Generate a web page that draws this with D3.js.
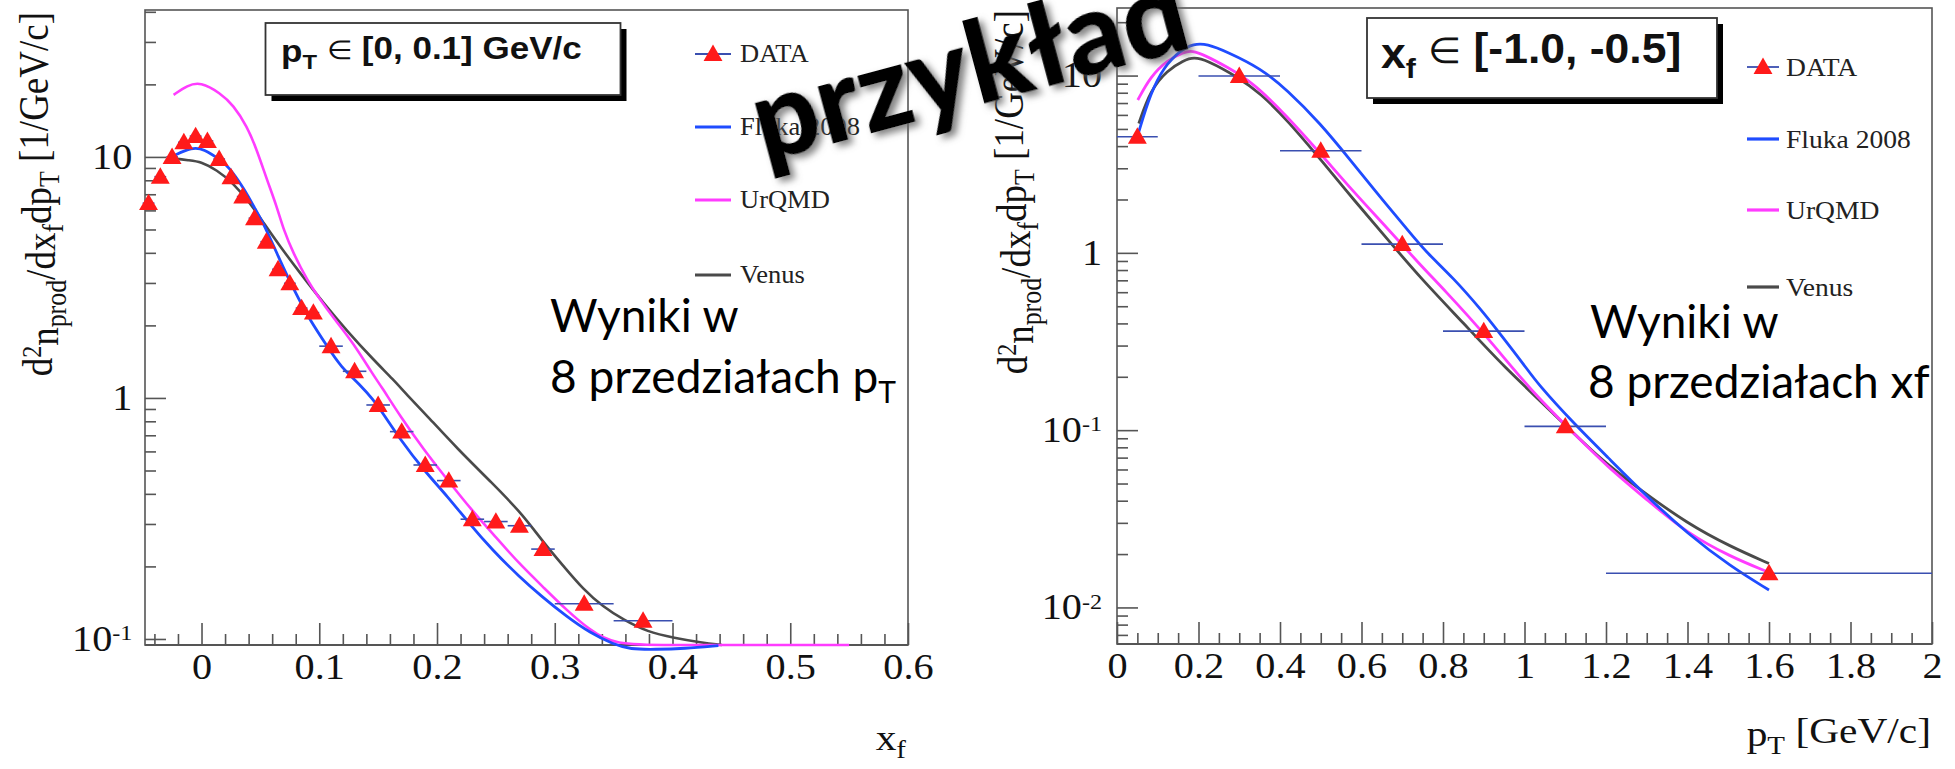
<!DOCTYPE html>
<html><head><meta charset="utf-8">
<script src="https://cdn.jsdelivr.net/npm/d3@7/dist/d3.min.js"></script>
<style>body{margin:0;background:#fff;}svg{display:block}</style>
</head><body>
<svg id="c" width="1955" height="769"></svg>
<script>
// ---------------- LEFT PANEL DATA (p_T in [0,0.1] GeV/c, vs x_f) ----------------
const leftDataX    = [-0.045,-0.035,-0.025,-0.015,-0.005,0.005,0.015,0.025,0.035,0.045,0.055,0.065,0.075,0.085,0.095,0.11,0.13,0.15,0.17,0.19,0.21,0.23,0.25,0.27,0.29,0.325,0.375];
const leftDataY    = [6.43,8.28,10.0,11.5,12.2,11.65,9.8,8.24,6.85,5.57,4.45,3.42,2.99,2.36,2.26,1.64,1.29,0.935,0.725,0.527,0.454,0.314,0.307,0.295,0.236,0.140,0.119];
const leftDataXErr = [0.005,0.005,0.005,0.005,0.005,0.005,0.005,0.005,0.005,0.005,0.005,0.005,0.005,0.005,0.005,0.01,0.01,0.01,0.01,0.01,0.01,0.01,0.01,0.01,0.01,0.025,0.025];

const leftFlukaX  = [-0.024,-0.008,0.002,0.016,0.023,0.036,0.046,0.054,0.064,0.073,0.083,0.092,0.107,0.118,0.135,0.146,0.153,0.169,0.189,0.209,0.227,0.247,0.27,0.289,0.31,0.33,0.35,0.364,0.385,0.41,0.439];
const leftFlukaY  = [10.1,10.97,10.8,9.72,9.12,7.42,6.03,5.14,3.98,3.19,2.55,2.11,1.63,1.35,1.13,0.98,0.88,0.67,0.5,0.39,0.303,0.234,0.181,0.150,0.124,0.106,0.095,0.0906,0.0905,0.0912,0.0938];
const leftUrqmdX  = [-0.0237,-0.012,-0.001,0.016,0.027,0.0386,0.047,0.0556,0.064,0.0697,0.078,0.0896,0.1009,0.111,0.129,0.146,0.152,0.169,0.189,0.209,0.2293,0.2495,0.2695,0.2897,0.3098,0.3298,0.3497,0.4,0.45,0.5,0.55];
const leftUrqmdY  = [18.1,19.8,20.5,18.4,16.4,13.4,10.7,8.03,6.22,4.98,3.98,3.09,2.55,2.18,1.69,1.24,1.13,0.836,0.608,0.457,0.343,0.266,0.206,0.165,0.132,0.109,0.0944,0.0944,0.0944,0.0944,0.0944];
const leftVenusX  = [-0.029,-0.0096,-0.001,0.013,0.027,0.0414,0.0529,0.0669,0.0839,0.1037,0.1235,0.146,0.163,0.1745,0.189,0.218,0.2466,0.2724,0.2897,0.3069,0.324,0.341,0.3585,0.3786,0.4016,0.4245,0.442];
const leftVenusY  = [9.94,9.66,9.56,8.83,7.78,6.43,5.31,4.24,3.29,2.47,1.9,1.44,1.19,1.03,0.87,0.61,0.445,0.33,0.254,0.202,0.161,0.136,0.120,0.107,0.101,0.0966,0.0944];

const leftXTicks      = [0,0.1,0.2,0.3,0.4,0.5,0.6];
const leftXTickLabels = ["0","0.1","0.2","0.3","0.4","0.5","0.6"];
const leftXMinor      = [-0.04,-0.02,0.02,0.04,0.06,0.08,0.12,0.14,0.16,0.18,0.22,0.24,0.26,0.28,0.32,0.34,0.36,0.38,0.42,0.44,0.46,0.48,0.52,0.54,0.56,0.58];
const leftYTicks      = [0.1,1,10];
const leftYMinor      = [0.2,0.3,0.4,0.5,0.6,0.7,0.8,0.9,2,3,4,5,6,7,8,9,20,30,40];

// ---------------- RIGHT PANEL DATA (x_f in [-1.0,-0.5], vs p_T) ----------------
const rightDataX    = [0.05,0.3,0.5,0.7,0.9,1.1,1.6];
const rightDataY    = [4.52,9.94,3.77,1.12,0.362,0.105,0.0156];
const rightDataXErr = [0.05,0.1,0.1,0.1,0.1,0.1,0.4];

const rightFlukaX = [0.0535,0.0822,0.115,0.156,0.188,0.221,0.27,0.352,0.418,0.499,0.573,0.638,0.72,0.755,0.826,0.8945,0.933,1.0025,1.031,1.121,1.203,1.301,1.399,1.506,1.6];
const rightFlukaY = [4.82,7.94,11.2,13.9,15.1,15.1,13.6,11.0,8.28,5.37,3.33,2.17,1.29,1.03,0.72,0.475,0.367,0.228,0.184,0.109,0.0708,0.0421,0.0262,0.0170,0.01254];
const rightUrqmdX = [0.051,0.082,0.123,0.164,0.185,0.213,0.27,0.336,0.418,0.499,0.581,0.663,0.745,0.8,0.9085,1.0147,1.113,1.203,1.301,1.399,1.506,1.596];
const rightUrqmdY = [7.28,9.85,12.2,13.6,13.8,13.1,11.2,9.04,5.86,3.64,2.2,1.38,0.85,0.63,0.336,0.168,0.100,0.0622,0.0404,0.0262,0.0193,0.0159];
const rightVenusX = [0.0535,0.082,0.123,0.164,0.188,0.221,0.295,0.352,0.418,0.5075,0.581,0.663,0.745,0.851,0.949,1.072,1.178,1.285,1.399,1.506,1.6];
const rightVenusY = [5.37,8.28,10.7,12.2,12.7,12.2,9.85,7.94,5.61,3.20,1.99,1.2,0.72,0.40,0.228,0.124,0.0708,0.0459,0.0298,0.0220,0.0177];

const rightXTicks      = [0,0.2,0.4,0.6,0.8,1,1.2,1.4,1.6,1.8,2];
const rightXTickLabels = ["0","0.2","0.4","0.6","0.8","1","1.2","1.4","1.6","1.8","2"];
const rightXMinor      = [0.05,0.1,0.15,0.25,0.3,0.35,0.45,0.5,0.55,0.65,0.7,0.75,0.85,0.9,0.95,1.05,1.1,1.15,1.25,1.3,1.35,1.45,1.5,1.55,1.65,1.7,1.75,1.85,1.9,1.95];
const rightYTicks      = [0.01,0.1,1,10];
const rightYMinor      = [0.007,0.008,0.009,0.02,0.03,0.04,0.05,0.06,0.07,0.08,0.09,0.2,0.3,0.4,0.5,0.6,0.7,0.8,0.9,2,3,4,5,6,7,8,9,20];

const legendNames = ["DATA","Fluka 2008","UrQMD","Venus"];

// ---------------- STYLE ----------------
const SERIF = "'Liberation Serif','Times New Roman',serif";
const SANS  = "'Liberation Sans',Arial,sans-serif";
const SLIDE = "Lato,'Open Sans',sans-serif";
const C_FLUKA = "#1f4cff", C_URQMD = "#ff3cff", C_VENUS = "#4a4a4a", C_DATA = "#ff1a1a", C_ERR = "#3a4fb0", C_FRAME = "#555";
const SX = 1.15; // horizontal stretch of ROOT text in the original image

const svg = d3.select("#c");
svg.append("rect").attr("width",1955).attr("height",769).attr("fill","#fff");
const defs = svg.append("defs");
const f = defs.append("filter").attr("id","shadow").attr("x","-10%").attr("y","-20%").attr("width","130%").attr("height","150%");
f.append("feDropShadow").attr("dx",4).attr("dy",5).attr("stdDeviation",3.5).attr("flood-color","#666").attr("flood-opacity",0.8);

function zip(a,b){ return a.map((v,i)=>[v,b[i]]); }

function drawPanel(p){
  const g = svg.append("g");
  const x = d3.scaleLinear().domain(p.xDomain).range([p.left,p.right]);
  const y = d3.scaleLog().domain(p.yDomain).range([p.bottom,p.top]);

  g.append("rect").attr("x",p.left).attr("y",p.top).attr("width",p.right-p.left).attr("height",p.bottom-p.top)
    .attr("fill","none").attr("stroke",C_FRAME).attr("stroke-width",1.6);

  const axm = g.append("g").attr("transform",`translate(0,${p.bottom})`)
    .call(d3.axisBottom(x).tickValues(p.xMinor).tickSizeInner(-11).tickSizeOuter(0).tickFormat(""));
  axm.select(".domain").remove();
  const ax = g.append("g").attr("transform",`translate(0,${p.bottom})`)
    .call(d3.axisBottom(x).tickValues(p.xTicks).tickSizeInner(-22).tickSizeOuter(0).tickPadding(9)
      .tickFormat((d,i)=>p.xLabels[i]));
  ax.select(".domain").remove();
  ax.selectAll("text").attr("font-family",SERIF).attr("font-size",35).attr("fill","#111")
    .attr("transform",`scale(${SX},1)`);
  g.append("line").attr("x1",p.left).attr("x2",p.right).attr("y1",p.bottom).attr("y2",p.bottom)
    .attr("stroke",C_FRAME).attr("stroke-width",2.2);

  const aym = g.append("g").attr("transform",`translate(${p.left},0)`)
    .call(d3.axisLeft(y).tickValues(p.yMinor).tickSizeInner(-11).tickSizeOuter(0).tickFormat(()=>""));
  aym.select(".domain").remove();
  const ay = g.append("g").attr("transform",`translate(${p.left},0)`)
    .call(d3.axisLeft(y).tickValues(p.yTicks).tickSizeInner(-21).tickSizeOuter(0).tickPadding(p.yPad).tickFormat(()=>""));
  ay.select(".domain").remove();
  ay.selectAll(".tick text").each(function(d){
    const t = d3.select(this);
    const e = Math.round(Math.log10(d));
    t.attr("font-family",SERIF).attr("font-size",35).attr("fill","#111").attr("transform",`scale(${SX},1)`);
    if (e === 0) t.text("1");
    else if (e === 1) t.text("10");
    else { t.text("10"); t.append("tspan").attr("dy","-0.5em").attr("font-size","0.6em").text(String(e)); }
  });
  g.selectAll(".tick line").attr("stroke",C_FRAME).attr("stroke-width",1.6);

  const line = d3.line().x(d=>x(d[0])).y(d=>y(d[1])).curve(d3.curveBasis);
  p.curves.forEach(c=>{
    g.append("path").attr("d",line(zip(c.x,c.y))).attr("fill","none")
      .attr("stroke",c.color).attr("stroke-width",c.w).attr("stroke-linejoin","round");
  });

  const pts = p.dataX.map((v,i)=>({x:v,y:p.dataY[i],e:p.dataErr[i]}));
  g.selectAll(".eb").data(pts).join("line").attr("class","eb")
    .attr("x1",d=>x(d.x-d.e)).attr("x2",d=>x(d.x+d.e)).attr("y1",d=>y(d.y)).attr("y2",d=>y(d.y))
    .attr("stroke",C_ERR).attr("stroke-width",1.6);
  const tri = d3.symbol(d3.symbolTriangle).size(155);
  g.selectAll(".tri").data(pts).join("path").attr("class","tri")
    .attr("transform",d=>`translate(${x(d.x)},${y(d.y)+1.5})`).attr("d",tri).attr("fill",C_DATA);

  const yt = g.append("text").attr("font-family",SERIF).attr("font-size",37).attr("fill","#111")
    .attr("text-anchor","end")
    .attr("transform",`translate(${p.yTitleX},${p.top+2}) rotate(-90) scale(1,1.12)`);
  yt.append("tspan").text("d");
  yt.append("tspan").attr("dy","-0.42em").attr("font-size","0.65em").text("2");
  yt.append("tspan").attr("dy","0.42em").text("n");
  yt.append("tspan").attr("dy","0.28em").attr("font-size","0.7em").text("prod");
  yt.append("tspan").attr("dy","-0.28em").text("/dx");
  yt.append("tspan").attr("dy","0.28em").attr("font-size","0.7em").text("f");
  yt.append("tspan").attr("dy","-0.28em").text("dp");
  yt.append("tspan").attr("dy","0.28em").attr("font-size","0.7em").text("T");
  yt.append("tspan").attr("dy","-0.28em").text(" [1/GeV/c]");

  const xt = g.append("text").attr("font-family",SERIF).attr("font-size",36).attr("fill","#111")
    .attr("text-anchor","end").attr("transform",`translate(${p.xTitleX},${p.xTitleY}) scale(${SX},1)`);
  xt.append("tspan").text(p.xTitle[0]);
  xt.append("tspan").attr("dy","0.3em").attr("font-size","0.7em").text(p.xTitle[1]);
  if (p.xTitle[2]) xt.append("tspan").attr("dy","-0.3em").text(p.xTitle[2]);

  const b = p.box;
  g.append("rect").attr("x",b.x+6).attr("y",b.y+6).attr("width",b.w).attr("height",b.h).attr("fill","#000");
  g.append("rect").attr("x",b.x).attr("y",b.y).attr("width",b.w).attr("height",b.h).attr("fill","#fff")
    .attr("stroke","#333").attr("stroke-width",1.8);
  const bt = g.append("text").attr("font-family",SANS).attr("font-weight","bold").attr("font-size",b.fs).attr("fill","#111")
    .attr("transform",`translate(${b.tx},${b.ty}) scale(${b.sx},1)`);
  bt.append("tspan").text(b.t[0]);
  bt.append("tspan").attr("dy","0.35em").attr("font-size","0.68em").text(b.t[1]);
  bt.append("tspan").attr("dy","-0.35em").attr("font-weight","normal").text(" ");
  bt.append("tspan").attr("font-weight","normal").attr("font-size","0.85em").text("\u2208");
  bt.append("tspan").text(" " + b.t[2]);

  const L = p.legend;
  const colors = [C_ERR,C_FLUKA,C_URQMD,C_VENUS];
  legendNames.forEach((name,i)=>{
    const yy = L.rows[i];
    g.append("line").attr("x1",L.x1).attr("x2",L.x2).attr("y1",yy).attr("y2",yy)
      .attr("stroke",colors[i]).attr("stroke-width",i===0?1.8:3.2);
    if (i===0) g.append("path").attr("transform",`translate(${(L.x1+L.x2)/2},${yy+1.5})`).attr("d",tri).attr("fill",C_DATA);
    g.append("text").attr("font-family",SERIF).attr("font-size",L.fs).attr("fill","#222")
      .attr("transform",`translate(${L.tx},${yy+L.fs*0.33}) scale(1.06,1)`).text(name);
  });
}

drawPanel({
  xDomain:[-0.048,0.6], yDomain:[0.0944,40.7], left:145, right:908, top:10, bottom:645,
  xTicks:leftXTicks, xLabels:leftXTickLabels, xMinor:leftXMinor, yTicks:leftYTicks, yMinor:leftYMinor, yPad:11,
  dataX:leftDataX, dataY:leftDataY, dataErr:leftDataXErr,
  curves:[
    {x:leftVenusX,y:leftVenusY,color:C_VENUS,w:2.6},
    {x:leftUrqmdX,y:leftUrqmdY,color:C_URQMD,w:2.6},
    {x:leftFlukaX,y:leftFlukaY,color:C_FLUKA,w:2.8}],
  yTitleX:52, xTitleX:906, xTitleY:750, xTitle:["x","f"],
  box:{x:265.5,y:23,w:355,h:72,tx:281,ty:62,fs:31,sx:1.13,t:["p","T","[0, 0.1] GeV/c"]},
  legend:{x1:695,x2:731,tx:740,fs:25,rows:[54,127,200,275]}
});

drawPanel({
  xDomain:[0,2], yDomain:[0.00622,24.05], left:1117, right:1932, top:8, bottom:644,
  xTicks:rightXTicks, xLabels:rightXTickLabels, xMinor:rightXMinor, yTicks:rightYTicks, yMinor:rightYMinor, yPad:13,
  dataX:rightDataX, dataY:rightDataY, dataErr:rightDataXErr,
  curves:[
    {x:rightVenusX,y:rightVenusY,color:C_VENUS,w:2.8},
    {x:rightUrqmdX,y:rightUrqmdY,color:C_URQMD,w:2.8},
    {x:rightFlukaX,y:rightFlukaY,color:C_FLUKA,w:2.8}],
  yTitleX:1027, xTitleX:1931, xTitleY:746, xTitle:["p","T"," [GeV/c]"],
  box:{x:1367,y:18,w:350,h:80,tx:1381,ty:68,fs:42,sx:1.06,t:["x","f","[-1.0, -0.5]"]},
  legend:{x1:1747,x2:1779,tx:1786,fs:26,rows:[67,139,210,287]}
});

// ---------------- SLIDE OVERLAY TEXT ----------------
svg.append("text").attr("x",550).attr("y",332).attr("font-family",SLIDE).attr("font-size",46).attr("fill","#000").text("Wyniki w");
const t2 = svg.append("text").attr("x",550).attr("y",393).attr("font-family",SLIDE).attr("font-size",46).attr("fill","#000");
t2.append("tspan").text("8 przedziałach p");
t2.append("tspan").attr("dy",10).attr("font-size",30).text("T");
svg.append("text").attr("x",1590).attr("y",338).attr("font-family",SLIDE).attr("font-size",46).attr("fill","#000").text("Wyniki w");
svg.append("text").attr("x",1588).attr("y",398).attr("font-family",SLIDE).attr("font-size",46).attr("fill","#000").text("8 przedziałach xf");

svg.append("text").attr("transform","translate(764,162) rotate(-15)")
  .attr("font-family",SLIDE).attr("font-weight",900).attr("font-size",114).attr("fill","#000")
  .attr("filter","url(#shadow)").text("przykład");
</script>
</body></html>
